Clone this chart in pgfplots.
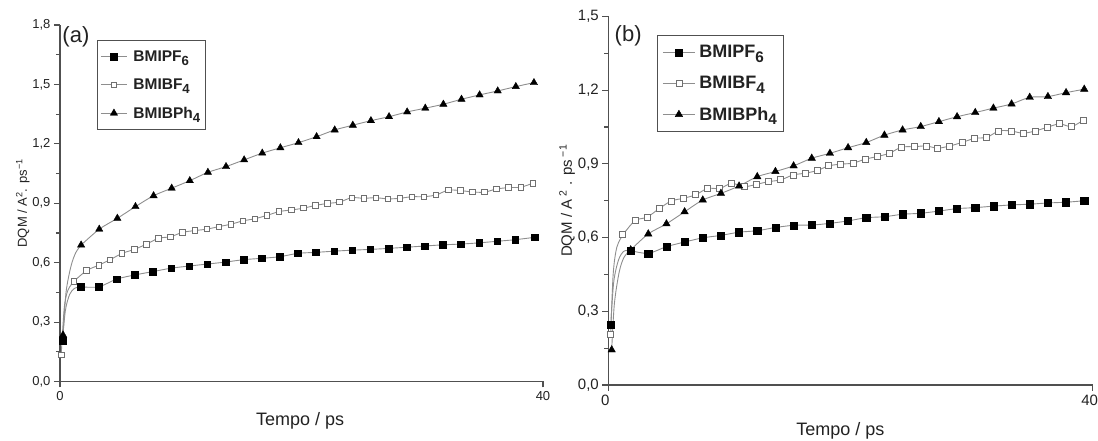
\documentclass[border=0pt]{standalone}
\usepackage{pgfplots}
\pgfplotsset{compat=1.18}
\usepackage{pgfplotstable}
\usepackage{fontspec}
\setmainfont{Liberation Sans}
\definecolor{axisgray}{HTML}{505050}
\definecolor{linegray}{HTML}{8E8E8E}
\definecolor{opengray}{HTML}{707070}
\definecolor{txt}{HTML}{222222}

% ---------- panel (a): marker data ----------
\pgfplotstableread{
x y
0.2 0.205
1.7 0.478
3.2 0.478
4.7 0.517
6.2 0.538
7.7 0.555
9.2 0.572
10.7 0.583
12.2 0.593
13.7 0.603
15.2 0.615
16.7 0.622
18.2 0.630
19.7 0.647
21.2 0.652
22.7 0.658
24.2 0.663
25.7 0.667
27.2 0.672
28.7 0.678
30.2 0.684
31.7 0.690
33.2 0.694
34.7 0.700
36.2 0.708
37.7 0.716
39.3 0.728
}\aPF
\pgfplotstableread{
x y
0.1 0.134
1.15 0.506
2.2 0.560
3.2 0.587
4.15 0.615
5.15 0.647
6.15 0.667
7.15 0.693
8.15 0.723
9.15 0.731
10.15 0.753
11.15 0.762
12.15 0.769
13.15 0.782
14.15 0.794
15.15 0.811
16.15 0.822
17.15 0.839
18.15 0.858
19.15 0.866
20.15 0.875
21.15 0.889
22.15 0.899
23.15 0.906
24.15 0.928
25.15 0.925
26.15 0.928
27.15 0.922
28.15 0.925
29.15 0.933
30.15 0.933
31.15 0.942
32.15 0.966
33.15 0.964
34.15 0.957
35.15 0.956
36.15 0.972
37.15 0.979
38.15 0.981
39.15 1.001
}\aBF
\pgfplotstableread{
x y
0.25 0.235
1.75 0.689
3.25 0.769
4.75 0.824
6.25 0.883
7.75 0.938
9.25 0.976
10.75 1.014
12.25 1.056
13.75 1.085
15.25 1.119
16.75 1.153
18.25 1.180
19.75 1.206
21.25 1.236
22.75 1.270
24.25 1.294
25.75 1.317
27.25 1.337
28.75 1.361
30.25 1.380
31.75 1.400
33.25 1.425
34.75 1.447
36.25 1.467
37.75 1.489
39.25 1.509
}\aBPh
% ---------- panel (b): marker data ----------
\pgfplotstableread{
x y
0.2 0.244
1.85 0.547
3.3 0.536
4.8 0.563
6.3 0.582
7.8 0.599
9.3 0.609
10.8 0.622
12.3 0.628
13.8 0.641
15.3 0.650
16.8 0.651
18.3 0.658
19.8 0.668
21.3 0.681
22.8 0.685
24.3 0.695
25.8 0.699
27.3 0.708
28.8 0.718
30.3 0.722
31.8 0.728
33.3 0.733
34.8 0.736
36.3 0.741
37.8 0.744
39.3 0.750
}\bPF
\pgfplotstableread{
x y
0.2 0.204
1.2 0.611
2.2 0.669
3.2 0.683
4.2 0.718
5.2 0.749
6.2 0.760
7.2 0.774
8.2 0.800
9.2 0.800
10.2 0.821
11.2 0.807
12.25 0.817
13.25 0.828
14.25 0.835
15.25 0.855
16.25 0.862
17.25 0.873
18.2 0.892
19.2 0.899
20.2 0.903
21.2 0.919
22.2 0.930
23.2 0.943
24.2 0.968
25.25 0.970
26.25 0.973
27.2 0.964
28.2 0.973
29.25 0.988
30.25 1.004
31.25 1.008
32.25 1.034
33.25 1.034
34.25 1.025
35.25 1.034
36.25 1.049
37.25 1.063
38.25 1.052
39.25 1.079
}\bBF
\pgfplotstableread{
x y
0.28 0.143
1.85 0.550
3.3 0.615
4.8 0.656
6.3 0.705
7.8 0.753
9.3 0.780
10.8 0.810
12.3 0.848
13.8 0.869
15.3 0.892
16.8 0.923
18.3 0.943
19.8 0.966
21.3 0.987
22.8 1.017
24.3 1.038
25.8 1.052
27.3 1.072
28.8 1.092
30.3 1.109
31.8 1.127
33.3 1.144
34.8 1.171
36.3 1.174
37.8 1.190
39.3 1.204
}\bBPh

\tikzset{
  mkPF/.style={mark=square*, mark options={draw=black, fill=black, line width=0.4pt}},
  mkBF/.style={mark=square*, mark options={draw=opengray, fill=white, line width=0.8pt}},
  mkBPh/.style={mark=triangle*, mark options={draw=black, fill=black, line width=0.4pt}},
}
\newcommand{\legimg}[2]{\addlegendimage{legend image code/.code={%
  \draw[draw=linegray, line width=0.9pt] (0pt,0pt)--(#1,0pt);
  \draw plot[only marks, #2] coordinates {(#1/2,0pt)};}}}
\newcommand{\sub}[1]{\raisebox{-0.5ex}{\scalebox{0.85}{#1}}}

\pgfplotsset{
  panel/.style={
    scale only axis, clip=false,
    xmin=0, xmax=40, ymin=0,
    axis lines=left,
    axis line style={-, draw=axisgray, line width=1.6pt},
    xtick={0,40},
    minor y tick num=1,
    tick align=outside,
    major tick length=6pt, minor tick length=4pt,
    every tick/.style={draw=axisgray, line width=1.1pt},
    tick label style={text=txt},
    /pgf/number format/assume math mode=true,
    yticklabel style={/pgf/number format/fixed, /pgf/number format/fixed zerofill,
      /pgf/number format/precision=1, /pgf/number format/use comma},
    legend cell align=left,
  },
  ln/.style={draw=linegray, line width=0.9pt, smooth, tension=0.5, no marks, forget plot},
  lnt/.style={ln, restrict x to domain=1:41},
}

\begin{document}
\begin{tikzpicture}
\path[use as bounding box] (0pt,0pt) rectangle (1098pt,441pt);

% ================= (a) =================
\begin{axis}[panel,
  at={(60pt,59.5pt)}, anchor=south west,
  width=483pt, height=356.5pt,
  ymax=1.8, ytick={0,0.3,0.6,0.9,1.2,1.5,1.8},
  tick label style={font=\fontsize{13}{13}\selectfont},
  ylabel={DQM / A\textsuperscript{2}. ps\textsuperscript{−1}},
  ylabel style={at={(axis description cs:-0.077,0.5)}, anchor=center, text=txt, font=\fontsize{13}{13}\selectfont},
  xlabel={Tempo / ps},
  xlabel style={at={(axis description cs:0.497,-0.109)}, anchor=center, text=txt, font=\fontsize{18}{18}\selectfont},
  legend style={at={(axis description cs:0.0766,0.958)}, anchor=north west,
    draw=axisgray, line width=1pt, text=txt,
    font=\bfseries\fontsize{15.5}{15.5}\selectfont,
    inner xsep=3pt, inner ysep=8pt, row sep=12pt,
    nodes={inner sep=2pt},
    /tikz/every odd column/.append style={column sep=4pt}},
]
\addplot[ln] coordinates {(0.2,0.205)(0.45,0.36)(0.8,0.44)(1.2,0.47)(1.7,0.478)};
\addplot[lnt] table[x=x,y=y] {\aPF};
\addplot[ln] coordinates {(0.1,0.134)(0.35,0.37)(0.65,0.46)(1.15,0.506)};
\addplot[lnt] table[x=x,y=y] {\aBF};
\addplot[ln] coordinates {(0.25,0.235)(0.5,0.45)(0.9,0.58)(1.3,0.65)(1.75,0.689)};
\addplot[lnt] table[x=x,y=y] {\aBPh};
\addplot[only marks, mkPF, mark size=3.3pt, forget plot] table[x=x,y=y] {\aPF};
\addplot[only marks, mkBF, mark size=2.7pt, forget plot] table[x=x,y=y] {\aBF};
\addplot[only marks, mkBPh, mark size=4.2pt, forget plot] table[x=x,y=y] {\aBPh};
\legimg{26pt}{mkPF, mark size=3.3pt}
\legimg{26pt}{mkBF, mark size=2.7pt}
\legimg{26pt}{mkBPh, mark size=4.2pt}
\legend{BMIPF\sub{6}, BMIBF\sub{4}, BMIBPh\sub{4}}
\node[font=\fontsize{22}{22}\selectfont, text=txt] at (axis description cs:0.033,0.966) {(a)};
\end{axis}

% ================= (b) =================
\begin{axis}[panel,
  at={(608.3pt,56pt)}, anchor=south west,
  width=484.4pt, height=368.5pt,
  ymax=1.5, ytick={0,0.3,0.6,0.9,1.2,1.5},
  tick label style={font=\fontsize{15}{15}\selectfont},
  xticklabel style={xshift=-3pt},
  ylabel={DQM / A\hspace{3pt}\textsuperscript{2}\hspace{5pt}.\hspace{5pt}ps\hspace{3pt}\textsuperscript{−1}},
  ylabel style={at={(axis description cs:-0.085,0.5)}, anchor=center, text=txt, font=\fontsize{15}{15}\selectfont},
  xlabel={Tempo / ps},
  xlabel style={at={(axis description cs:0.479,-0.125)}, anchor=center, text=txt, font=\fontsize{18}{18}\selectfont},
  legend style={at={(axis description cs:0.1005,0.95)}, anchor=north west,
    draw=axisgray, line width=1pt, text=txt,
    font=\bfseries\fontsize{18}{18}\selectfont,
    inner xsep=5pt, inner ysep=8pt, row sep=13pt,
    nodes={inner sep=2pt},
    /tikz/every odd column/.append style={column sep=2pt}},
]
\addplot[ln] coordinates {(0.2,0.244)(0.45,0.42)(0.85,0.51)(1.3,0.545)(1.85,0.547)};
\addplot[lnt] table[x=x,y=y] {\bPF};
\addplot[ln] coordinates {(0.2,0.204)(0.4,0.45)(0.7,0.56)(1.2,0.611)};
\addplot[lnt] table[x=x,y=y] {\bBF};
\addplot[ln] coordinates {(0.28,0.143)(0.5,0.33)(0.9,0.46)(1.3,0.52)(1.85,0.55)};
\addplot[lnt] table[x=x,y=y] {\bBPh};
\addplot[only marks, mkPF, mark size=3.6pt, forget plot] table[x=x,y=y] {\bPF};
\addplot[only marks, mkBF, mark size=3pt, forget plot] table[x=x,y=y] {\bBF};
\addplot[only marks, mkBPh, mark size=4.3pt, forget plot] table[x=x,y=y] {\bBPh};
\legimg{32pt}{mkPF, mark size=3.6pt}
\legimg{32pt}{mkBF, mark size=3pt}
\legimg{32pt}{mkBPh, mark size=4.3pt}
\legend{BMIPF\sub{6}, BMIBF\sub{4}, BMIBPh\sub{4}}
\node[font=\fontsize{22}{22}\selectfont, text=txt] at (axis description cs:0.041,0.947) {(b)};
\end{axis}
\end{tikzpicture}
\end{document}
